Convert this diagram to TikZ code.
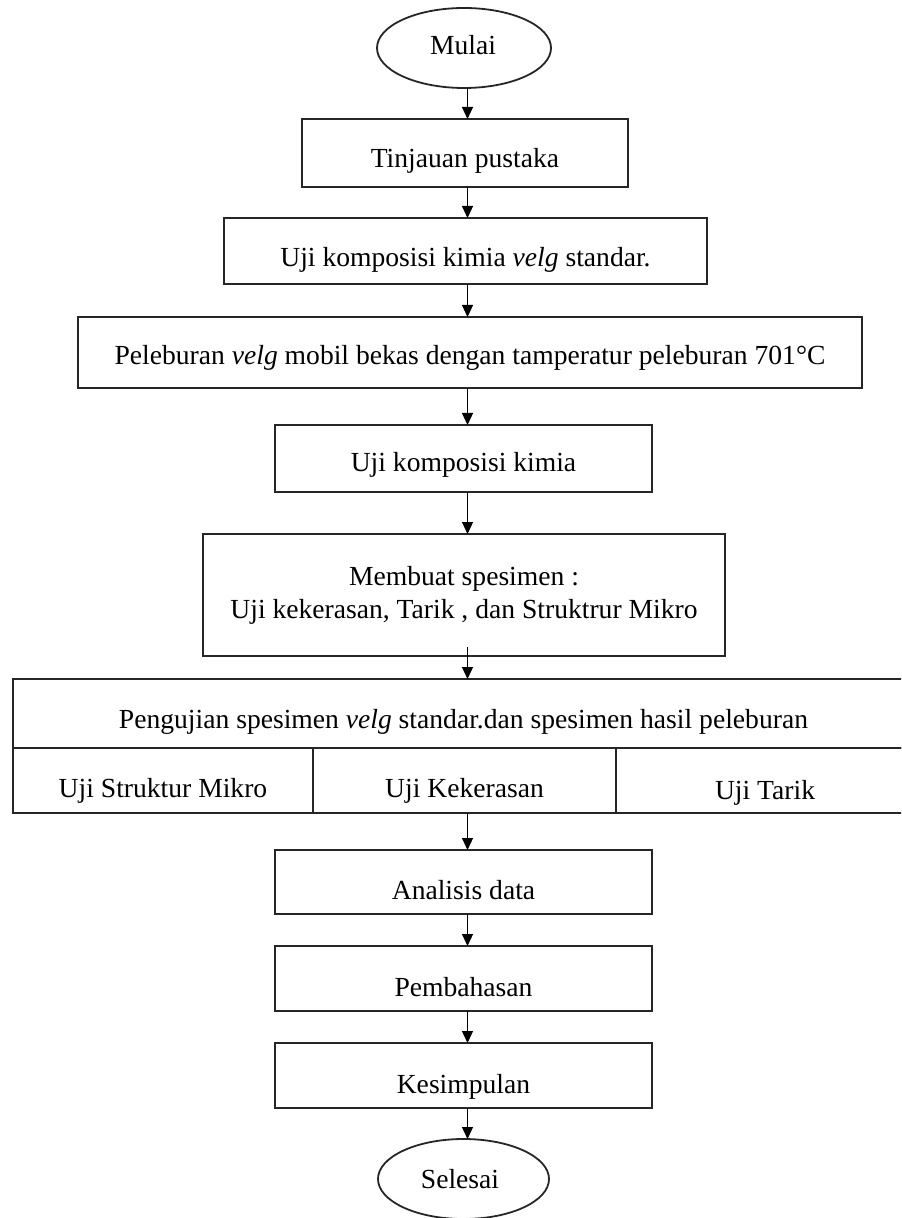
\documentclass[tikz,border=0pt]{standalone}
\usepackage{fontspec}
\setmainfont{Liberation Serif}
\usetikzlibrary{shapes.geometric,arrows.meta,calc}
\begin{document}
\begin{tikzpicture}[x=0.5pt,y=-0.5pt,
  box/.style={draw=black!85,line width=1pt,rectangle,inner sep=0pt,outer sep=0pt},
  term/.style={draw=black!85,line width=0.9pt,ellipse,inner sep=0pt,outer sep=0pt},
  txt/.style={anchor=base,inner sep=0pt,font=\fontsize{13.8pt}{16pt}\selectfont},
  arr/.style={draw=black,line width=0.6pt,-{Triangle[length=6pt,width=5.5pt]}}]
\useasboundingbox (0,0) rectangle (901,1218);
\clip (0,0) rectangle (901,1218);
\coordinate (ax) at (467.5,0);
% shapes
\node[term,minimum width=87pt,minimum height=40pt] (mulai) at (464,48) {};
\node[box,minimum width=163pt,minimum height=34pt] (tinj) at (465,153) {};
\node[box,minimum width=241.5pt,minimum height=33pt] (ujistd) at (465.5,251) {};
\node[box,minimum width=392pt,minimum height=35.5pt] (lebur) at (470,352.5) {};
\node[box,minimum width=188.5pt,minimum height=33.5pt] (ujikim) at (463.5,458.5) {};
\node[box,minimum width=261pt,minimum height=61pt] (buat) at (464,595) {};
\node[box,minimum width=450.5pt,minimum height=34.5pt] (uji) at (463.5,713.5) {};
\node[box,minimum width=150pt,minimum height=32.5pt] (s1) at (163,780.5) {};
\node[box,minimum width=151.5pt,minimum height=32.5pt] (s2) at (464.5,780.5) {};
\node[box,minimum width=149pt,minimum height=32.5pt] (s3) at (765,780.5) {};
\node[box,minimum width=188.5pt,minimum height=32pt] (anal) at (463.5,882) {};
\node[box,minimum width=188.5pt,minimum height=32.5pt] (bahas) at (463.5,978.5) {};
\node[box,minimum width=188.5pt,minimum height=32.5pt] (simp) at (463.5,1075.5) {};
\node[term,minimum width=85.5pt,minimum height=40pt] (selesai) at (463.5,1179) {};
% texts
\node[txt] (tmulai) at (463,55) {Mulai};
\node[txt] (ttinj) at (465,168) {Tinjauan pustaka};
\node[txt] (tujistd) at (465.5,267) {Uji komposisi kimia \textit{velg} standar.};
\node[txt] (tlebur) at (470,365) {Peleburan \textit{velg} mobil bekas dengan tamperatur peleburan 701°C};
\node[txt] (tujikim) at (463.5,472) {Uji komposisi kimia};
\node[txt] (tbuat1) at (464,585) {Membuat spesimen :};
\node[txt] (tbuat2) at (464,618) {Uji kekerasan, Tarik , dan Struktrur Mikro};
\node[txt] (tuji) at (463.5,728) {Pengujian spesimen \textit{velg} standar.dan spesimen hasil peleburan};
\node[txt] (ts1) at (163,797) {Uji Struktur Mikro};
\node[txt] (ts2) at (464.5,797) {Uji Kekerasan};
\node[txt] (ts3) at (765,799) {Uji Tarik};
\node[txt] (tanal) at (463.5,899) {Analisis data};
\node[txt] (tbahas) at (463.5,996) {Pembahasan};
\node[txt] (tsimp) at (463.5,1093) {Kesimpulan};
\node[txt] (tselesai) at (460,1188) {Selesai};
% connectors
\draw[arr] (mulai.south -| ax) -- (tinj.north -| ax);
\draw[arr] (tinj.south -| ax) -- (ujistd.north -| ax);
\draw[arr] (ujistd.south -| ax) -- (lebur.north -| ax);
\draw[arr] (lebur.south -| ax) -- (ujikim.north -| ax);
\draw[arr] (ujikim.south -| ax) -- (buat.north -| ax);
\draw[arr] ($(buat.south -| ax)+(0,-9)$) -- (uji.north -| ax);
\draw[arr] (s2.south -| ax) -- (anal.north -| ax);
\draw[arr] (anal.south -| ax) -- (bahas.north -| ax);
\draw[arr] (bahas.south -| ax) -- (simp.north -| ax);
\draw[arr] (simp.south -| ax) -- (selesai.north -| ax);
\end{tikzpicture}
\end{document}
